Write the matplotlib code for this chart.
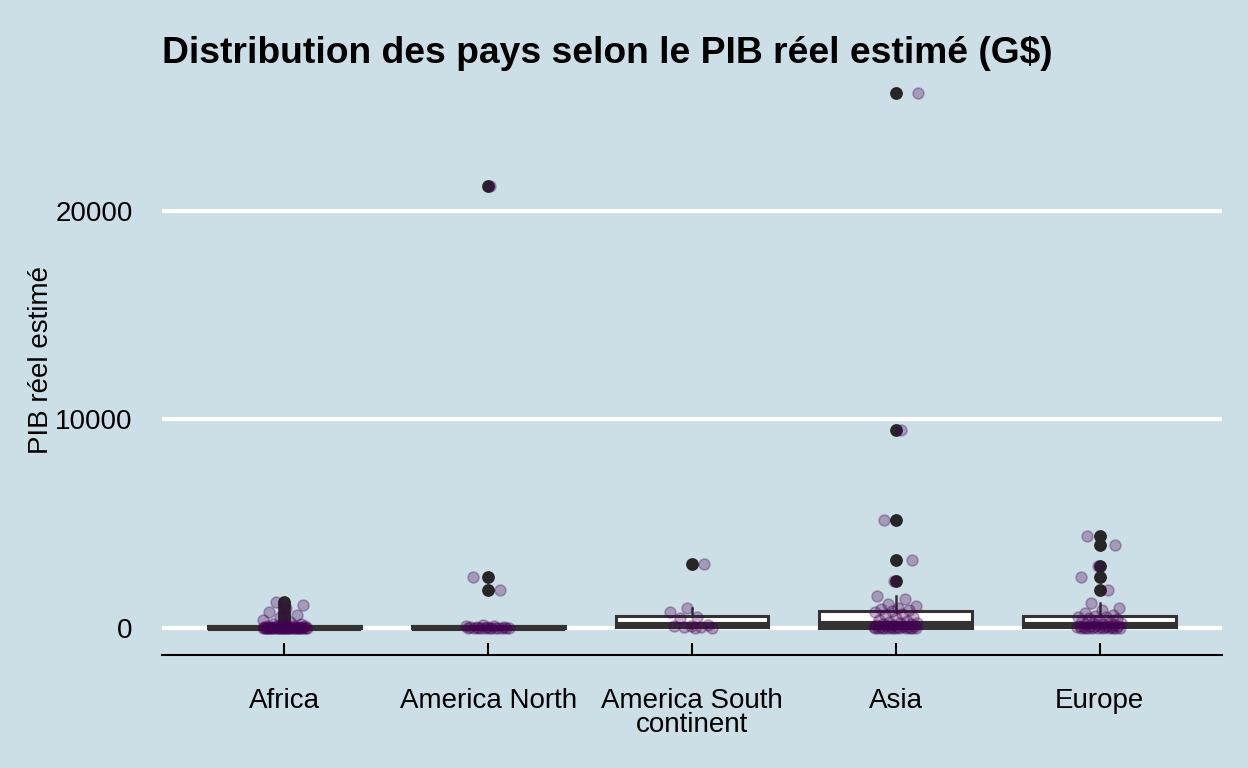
import numpy as np
import matplotlib
matplotlib.use("Agg")
import matplotlib.pyplot as plt

categories = ["Africa", "America North", "America South\ncontinent", "Asia", "Europe"]

africa = [1250, 1100, 950, 780, 640, 530, 400, 290, 220, 180, 150, 130, 110, 95, 85, 75,
          68, 60, 55, 50, 45, 40, 36, 33, 30, 27, 25, 22, 20, 18, 16, 15, 14, 13, 12, 11,
          10, 9, 8, 7, 6.5, 6, 5.5, 5, 4.5, 4, 3.5, 3, 2.5, 2, 1.6, 1.2, 0.8, 0.5]
america_north = [21200, 2450, 1820, 150, 110, 90, 70, 55, 45, 38, 30, 25, 20, 15, 12, 8,
                 5, 3, 2, 1.5, 1, 0.8]
america_south = [3070, 960, 770, 530, 480, 150, 120, 90, 60, 45, 30, 20]
asia = [25650, 9500, 5180, 3260, 2250, 1530, 1390, 1150, 1050, 980, 920, 870,
        840, 800, 700, 620, 540, 470, 400, 350, 300, 260, 230, 210,
        190, 170, 150, 130, 110, 95, 80, 70, 60, 50, 42, 36,
        30, 25, 20, 16, 13, 10, 8, 6, 4, 3, 2, 1]
europe = [4410, 3980, 2970, 2450, 1820, 1200, 960, 850, 720, 650, 590, 560, 520, 470,
          420, 380, 340, 300, 260, 230, 200, 185, 170, 150, 130, 115, 100, 90, 80, 70,
          60, 52, 45, 38, 32, 26, 20, 16, 12, 9, 6, 4, 2, 1]

groups = [africa, america_north, america_south, asia, europe]
yticks = [0, 10000, 20000]

title = "Distribution des pays selon le PIB réel estimé (G$)"
ylabel = "PIB réel estimé"

BG = "#cddfe6"
FONT = ["Liberation Sans", "DejaVu Sans"]
plt.rcParams["font.family"] = FONT

W, H = 1248, 768
PL, PR, PT, PB = 162, 1222, 66, 655
fig = plt.figure(figsize=(W / 100, H / 100), dpi=100, facecolor=BG)
ax = fig.add_axes([PL / W, 1 - PB / H, (PR - PL) / W, (PB - PT) / H])
ax.set_facecolor(BG)

positions = np.arange(1, len(groups) + 1)
box_col = "#333333"
ax.boxplot(groups, positions=positions, widths=0.75, patch_artist=True,
           whis=1.5, showcaps=False,
           boxprops=dict(facecolor="white", edgecolor=box_col, linewidth=2.2),
           medianprops=dict(color=box_col, linewidth=4.4, solid_capstyle="butt"),
           whiskerprops=dict(color=box_col, linewidth=1.8),
           flierprops=dict(marker="o", markerfacecolor="#262626", markeredgecolor="#262626",
                           markersize=8.2, linestyle="none"),
           zorder=3)

# deterministic jitter (golden-ratio sequence)
golden = 0.6180339887
for i, vals in enumerate(groups):
    n = len(vals)
    offs = (((np.arange(n) + 0.5 + i * 0.37) * golden) % 1.0 - 0.5) * 2 * 0.11
    ax.scatter(positions[i] + offs, vals, s=62, facecolor="#440154", edgecolor="#440154",
               alpha=0.3, linewidths=1.2, zorder=4)

allv = np.concatenate([np.asarray(g, float) for g in groups])
lo, hi = allv.min(), allv.max()
rng = hi - lo
ax.set_ylim(lo - 0.05 * rng, hi + 0.05 * rng)
ax.set_xlim(0.4, len(groups) + 0.6)

ax.set_yticks(yticks)
ax.set_yticklabels([str(t) for t in yticks])
ax.set_xticks(positions)
ax.set_xticklabels(categories, linespacing=0.9)

ax.yaxis.grid(True, color="white", linewidth=3.0)
ax.xaxis.grid(False)
ax.set_axisbelow(True)

for s in ["top", "left", "right"]:
    ax.spines[s].set_visible(False)
ax.spines["bottom"].set_color("black")
ax.spines["bottom"].set_linewidth(1.5)

ax.tick_params(axis="y", length=0, pad=21, labelsize=20, labelcolor="black")
ax.tick_params(axis="x", direction="in", length=9, width=1.5, color="black",
               pad=24, labelsize=20, labelcolor="black")

ax.set_ylabel(ylabel, fontsize=20)
ax.yaxis.set_label_coords((54 - PL) / (PR - PL), 0.5)

fig.text(PL / W, 1 - 62.7 / H, title, fontsize=26.8, fontweight="bold",
         ha="left", va="baseline", color="black")

fig.savefig("out.png", dpi=100, facecolor=BG)
